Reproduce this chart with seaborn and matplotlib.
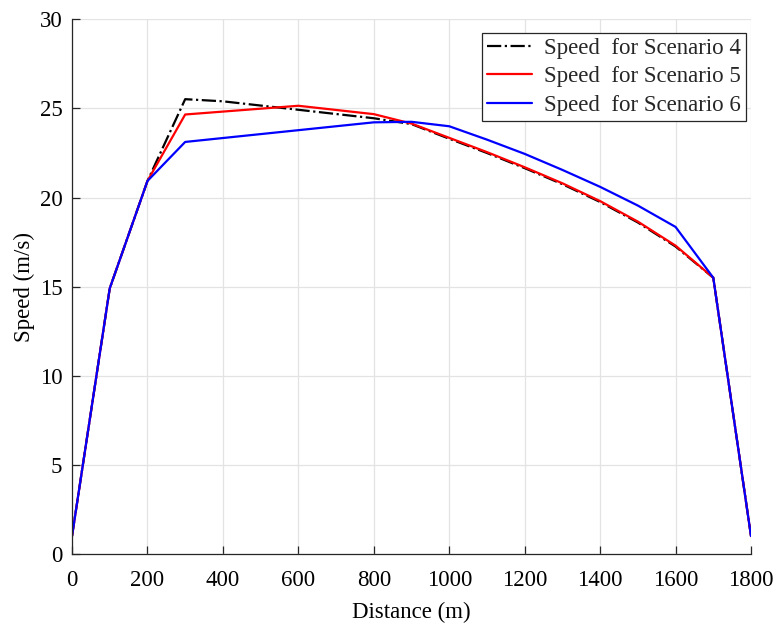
import matplotlib
matplotlib.use("Agg")
import matplotlib.pyplot as plt
import seaborn as sns
import pandas as pd

# Speed profiles along the route, vertices of each polyline
dist_s4 = [0, 100, 200, 300, 400, 800, 900, 1000, 1100, 1200, 1300, 1400, 1500, 1600, 1700, 1800]
speed_s4 = [1.0, 14.9, 20.93, 25.52, 25.40, 24.45, 24.12, 23.30, 22.50, 21.65, 20.75, 19.75, 18.60, 17.25, 15.5, 1.0]

dist_s5 = [0, 100, 200, 300, 600, 800, 900, 1000, 1100, 1200, 1300, 1400, 1500, 1600, 1700, 1800]
speed_s5 = [1.0, 14.9, 20.93, 24.66, 25.15, 24.68, 24.15, 23.35, 22.55, 21.70, 20.80, 19.80, 18.65, 17.30, 15.5, 1.0]

dist_s6 = [0, 100, 200, 300, 800, 900, 1000, 1100, 1200, 1300, 1400, 1500, 1600, 1700, 1800]
speed_s6 = [1.0, 14.9, 20.93, 23.12, 24.22, 24.25, 24.00, 23.25, 22.45, 21.55, 20.60, 19.55, 18.35, 15.5, 1.0]

labels = ["Speed  for Scenario 4", "Speed  for Scenario 5", "Speed  for Scenario 6"]
colors = ["black", "#ff0000", "#0000ff"]
styles = ["-.", "-", "-"]

x_ticks = list(range(0, 1801, 200))
y_ticks = list(range(0, 31, 5))

sns.set_theme(style="white")
plt.rcParams["font.family"] = ["Liberation Serif", "DejaVu Serif"]

FS = 16.5

fig = plt.figure(figsize=(7.76, 6.24), dpi=100)
ax = fig.add_axes([0.0928, 0.1123, 0.8750, 0.8567])

series = [(dist_s4, speed_s4), (dist_s5, speed_s5), (dist_s6, speed_s6)]
for (d, s), lab, c, ls in zip(series, labels, colors, styles):
    df = pd.DataFrame({"Distance": d, "Speed": s})
    sns.lineplot(data=df, x="Distance", y="Speed", ax=ax, color=c,
                 linestyle=ls, linewidth=1.6, label=lab, sort=False,
                 estimator=None)

ax.set_xlim(0, 1800)
ax.set_ylim(0, 30)
ax.set_xticks(x_ticks)
ax.set_yticks(y_ticks)
ax.grid(True, color="#e3e3e3", linewidth=0.9)
ax.set_axisbelow(True)

axis_col = "#262626"
for side in ["top", "right"]:
    ax.spines[side].set_visible(False)
for side in ["left", "bottom"]:
    ax.spines[side].set_color(axis_col)
    ax.spines[side].set_linewidth(0.9)

ax.tick_params(axis="both", direction="in", length=5.5, width=0.9,
               colors=axis_col, labelsize=FS, labelcolor="black",
               left=True, bottom=True)
ax.tick_params(axis="x", pad=11.5)
ax.tick_params(axis="y", pad=7)

ax.set_xlabel("Distance (m)", fontsize=FS, color="black", labelpad=8)
ax.set_ylabel("Speed (m/s)", fontsize=FS, color="black", labelpad=3)

leg = ax.legend(loc="upper right", bbox_to_anchor=(0.993, 0.975),
                fontsize=FS, frameon=True, fancybox=False, framealpha=1,
                edgecolor="#262626", handlelength=2.0, handletextpad=0.52,
                borderpad=0.22, labelspacing=0.33, borderaxespad=0)
leg.get_frame().set_linewidth(0.9)

fig.savefig("out.png", dpi=100)
